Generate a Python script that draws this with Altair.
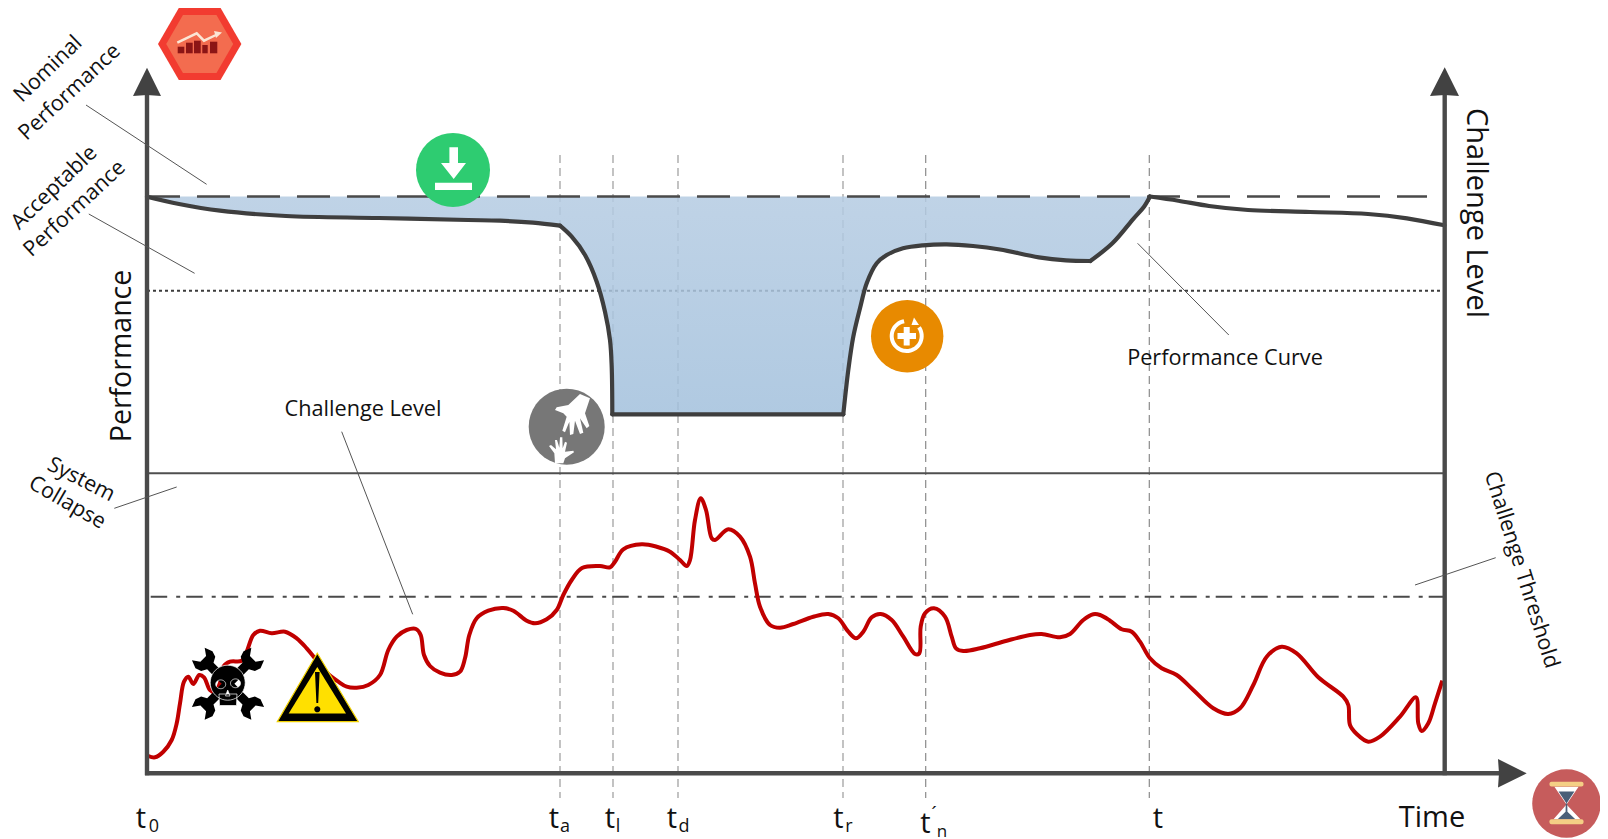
import math
import altair as alt
import pandas as pd

# ---- values (time / level on the drawing's own grid) ----
perf_seg = [
    [(147,196.7),(179,204),(220,210.7),(286,216),(379,218),(468,220),(500,220.7),(533,222.7),(560,225.7)],
    [(560,225.7),(571.7,236.7),(585,255),(596.7,281.7),(605,311.7),(610,340),(611.7,366.7),(612.3,414.3)],
    [(612.3,414.3),(843.3,414.3)],
    [(843.3,414.3),(848.3,370),(853.3,336.7),(860,308.3),(866.7,283.3),(876.7,263.3),(886.7,255),(903,248.3),
     (923,245.3),(946.7,244.3),(973,246),(1000,249.5),(1038.8,257.3),(1066,260.3),(1090.3,261)],
    [(1090.3,261),(1112.4,243.3),(1133.8,218.3),(1144,206.7),(1150,196.5)],
    [(1150,196.5),(1178.4,200.7),(1209,206),(1248,210),(1310,212),(1368,214),(1407,218.3),(1444.4,225.3)],
]
challenge_curve = [
    (148.3,756),(155,757.3),(163.3,751.7),(171.7,740),(176.7,723.3),(180,703.3),(184,681.7),(188.3,676.7),
    (193.3,684),(199.3,675),(204,677.3),(210,690),(215,692),(220,683),(223.3,666.7),(230,661.7),(241.7,660.7),
    (246.7,651.7),(253.3,635),(260,630.7),(271.7,633.3),(285,631.7),(296.7,638.3),(306.7,648.3),(315,658.3),
    (326,672),(338.3,681.7),(346.7,686.7),(356.7,687.7),(368.3,685),(380,675),(388.3,650),(396.7,636.7),
    (406.7,630),(416,629),(420.7,635),(424,655),(430,666),(440,672.7),(451.7,675),(460,671.7),(465,658.3),
    (469.3,635),(476.7,618.3),(488.3,610.7),(503.3,608),(513.3,610.7),(526.7,620.7),(535,623.3),(546.7,619.3),
    (556.7,610),(563.3,595),(571.7,580),(582,568),(600,566),(610,567.3),(615,561.7),(623.3,549.3),(641.7,544.3),
    (656.7,546.7),(670,551.7),(680,560),(686.7,566),(690,560),(695,520),(700.7,498.3),(706,510),(711.7,538.3),
    (715,540),(728.3,529.3),(740,536.7),(750,556.7),(755,583.3),(760,606.7),(770,625),(780,627.7),(793.3,624),
    (813.3,616.7),(828.3,614),(838.3,618.3),(848.3,631.7),(856,638.3),(863.3,631.7),(871.7,617.3),(880.7,614),
    (891.7,620),(903.3,636.7),(915,654),(919.3,653.3),(920.7,626.7),(925,613.3),(934,608.3),(945,616.7),
    (951.7,636.7),(956,648.3),(963.3,651),(980,648.3),(1006.7,640.7),(1030,635),(1041.7,634),(1060,637.3),
    (1070,634),(1083.3,620),(1093.3,614.3),(1100,615),(1110,620.7),(1121.7,629.3),(1131.7,631.7),(1140,641.7),
    (1150,658.3),(1161.7,668.3),(1176.7,675),(1193.3,690),(1213.3,708.3),(1228.3,714),(1240,708.3),(1253.3,685),
    (1266.7,656.7),(1281.7,646.7),(1296.7,653.3),(1318.3,677.3),(1343.3,696.7),(1348.3,705),(1350,725),
    (1356.7,734),(1368.3,741.7),(1380,736.7),(1400,716.7),(1416,697.3),(1418.3,723.3),(1421.7,731),(1428.3,723.3),
    (1435,703.3),(1442.3,680.7),
]
event_times = [560, 613, 678, 843, 925.7, 1149.3]
level_nominal = 196.5
level_acceptable = 290.7
level_collapse = 473.3
level_threshold = 596.7
axis_left = 147
axis_right = 1444.7
axis_floor = 773.3
leaders = [
    (86,105,206.6,184.3),(88.8,214,194.6,273.3),(114.3,508.3,176.7,487),
    (341.7,431.7,412.7,614.3),(1137.6,243.3,1228.8,335),(1415,585,1495.7,557.7),
]
labels = [
    ("Performance",122,356,28.5,270),("Challenge Level",1476,213,29,90),("Time",1432,818,29,0),
    ("Challenge Level",363,408.5,21.7,0),("Performance Curve",1225,358,21.7,0),
    ("Nominal",48.5,69.5,21.5,316),("Performance",70,92.5,21.5,317),
    ("Acceptable",54.5,188,21.5,316),("Performance",75,209,21.5,317),
    ("System",81,480,21.5,27),("Collapse",67,503,21.5,30),("Challenge Threshold",1521,570,21.5,72.5),
    ("t",141,819,29,0),("t",554,819,29,0),("t",610,819,29,0),("t",672,819,29,0),("t",838.5,819,29,0),
    ("t",925.5,824,29,0),("t",1158,819,29,0),
    ("0",154,827,18,0),("a",565,827,18,0),("l",618,827,18,0),("d",684,827,18,0),("r",849,827,18,0),
    ("n",942,832,17,0),("´",934,815,20,0),
]

X = alt.X("x:Q", scale=alt.Scale(domain=[8, 1600], nice=False, zero=False), axis=None)
Y = alt.Y("y:Q", scale=alt.Scale(domain=[839, 8], nice=False, zero=False), axis=None)
X2 = alt.X2("x2:Q")
Y2 = alt.Y2("y2:Q")
FONT = "Open Sans"
layers = []


def hline(y, x0, x1, color, width, dash=None, offset=0):
    kw = {"strokeDash": dash, "strokeDashOffset": offset} if dash else {}
    return alt.Chart(pd.DataFrame({"x": [x0], "x2": [x1], "y": [y]})).mark_rule(
        color=color, strokeWidth=width, **kw).encode(x=X, x2=X2, y=Y)


def vline(x, y0, y1, color, width, dash=None):
    kw = {"strokeDash": dash} if dash else {}
    return alt.Chart(pd.DataFrame({"x": [x], "y": [y0], "y2": [y1]})).mark_rule(
        color=color, strokeWidth=width, **kw).encode(x=X, y=Y, y2=Y2)


def path_of(polys, cx, cy, R, close=True):
    out = []
    for pts in polys:
        s = "M" + " L".join(f"{(a-cx)/R:.4f},{(b-cy)/R:.4f}" for a, b in pts)
        out.append(s + (" Z" if close else ""))
    return " ".join(out)


def glyph(polys, cx, cy, R, fill=None, stroke=None, sw=0, close=True):
    kw = {"filled": fill is not None, "opacity": 1, "size": (2 * R) ** 2, "shape": path_of(polys, cx, cy, R, close)}
    if fill is not None:
        kw["fill"] = fill
        kw["fillOpacity"] = 1
    if stroke is not None:
        kw["stroke"] = stroke
        kw["strokeWidth"] = sw
    else:
        kw["strokeWidth"] = 0
    return alt.Chart(pd.DataFrame({"x": [cx], "y": [cy]})).mark_point(**kw).encode(x=X, y=Y)


def ellipse(cx, cy, rx, ry, cw=True, n=40, a0=0.0, a1=360.0):
    out = []
    for i in range(n + 1 if (a1 - a0) < 360 else n):
        t = math.radians(a0 + (a1 - a0) * i / n)
        out.append((cx + rx * math.cos(t), cy + (ry if cw else -ry) * math.sin(t)))
    return out


def hexagon(cx, cy, r):
    return [(cx - r, cy), (cx - r / 2, cy - r * .866), (cx + r / 2, cy - r * .866),
            (cx + r, cy), (cx + r / 2, cy + r * .866), (cx - r / 2, cy + r * .866)]


# reference lines under the fill
layers.append(hline(level_acceptable, axis_left, axis_right, "#3c3c3c", 2, [3, 3]))
for i, t in enumerate(event_times):
    thin = i >= 4
    layers.append(vline(t, 155, 798, "#8a8a8a" if thin else "#b4b4b4", 1.2 if thin else 1.6, [8, 5]))

# fill between nominal and the performance curve
fill_pts = [p for seg in perf_seg[:5] for p in seg]
fill_df = pd.DataFrame({"x": [p[0] for p in fill_pts], "y": [p[1] for p in fill_pts],
                        "y2": [level_nominal] * len(fill_pts)}).drop_duplicates("x")
layers.append(alt.Chart(fill_df).mark_area(
    opacity=0.85,
    fill=alt.Gradient(gradient="linear", x1=0, x2=0, y1=0, y2=1, stops=[
        alt.GradientStop(color="#B4CBE2", offset=0),
        alt.GradientStop(color="#A2C0DC", offset=1)]),
).encode(x=X, y=alt.Y("y2:Q", scale=alt.Scale(domain=[839, 8], nice=False, zero=False), axis=None), y2=alt.Y2("y:Q")))

layers.append(hline(level_nominal, axis_left, 1427, "#4a4a4a", 2.3, [33, 17]))
layers.append(hline(level_collapse, axis_left, axis_right, "#4f4f4f", 2))
layers.append(hline(level_threshold, axis_left, axis_right, "#4a4a4a", 2, [16.5, 9, 4, 6], 31.8))

# curves
rows = [{"x": a, "y": b, "seg": i} for i, seg in enumerate(perf_seg) for a, b in seg]
layers.append(alt.Chart(pd.DataFrame(rows)).mark_line(
    color="#3e3e3e", strokeWidth=4.2, interpolate="catmull-rom", strokeCap="round"
).encode(x=X, y=Y, detail="seg:N"))
layers.append(alt.Chart(pd.DataFrame(challenge_curve, columns=["x", "y"])).mark_line(
    color="#C00000", strokeWidth=4, interpolate="catmull-rom"
).encode(x=X, y=Y))

# axes
AX = "#4a4a4a"
layers.append(vline(axis_left, 92, axis_floor + 2, AX, 4.4))
layers.append(vline(axis_right, 92, axis_floor + 2, AX, 4.4))
layers.append(hline(axis_floor, axis_left - 2, 1500, AX, 4.4))
layers.append(glyph([[(axis_left, 67.7), (161, 96), (147, 95), (133, 96)]], axis_left, 82, 20, fill="#424242"))
layers.append(glyph([[(axis_right, 67.3), (1459, 96), (axis_right, 95), (1430, 96)]], axis_right, 82, 20, fill="#424242"))
layers.append(glyph([[(1526.7, axis_floor), (1498, 787.5), (1499, axis_floor), (1498, 759)]], 1512, axis_floor, 20, fill="#424242"))

# leader lines
for a, b, c, d in leaders:
    layers.append(alt.Chart(pd.DataFrame({"x": [a], "y": [b], "x2": [c], "y2": [d]})).mark_rule(
        color="#555555", strokeWidth=1).encode(x=X, y=Y, x2=X2, y2=Y2))

# --- icons ---
# red hexagon
layers.append(glyph([hexagon(199.7, 44, 41.7)], 199.7, 44, 42, fill="#F23B30"))
layers.append(glyph([hexagon(199.7, 44, 33.5)], 199.7, 44, 42, fill="#F36C4F"))
for a, b, t in [(177.7, 184.3, 46.7), (186, 192.7, 42.7), (194, 200.7, 40.7), (202.3, 207.7, 45), (210, 217.3, 41.7)]:
    layers.append(alt.Chart(pd.DataFrame({"x": [a], "x2": [b], "y": [t], "y2": [53.3]})).mark_rect(
        color="#8C1515").encode(x=X, x2=X2, y=Y, y2=Y2))
layers.append(glyph([[(177.3, 42.7), (196.7, 33.3), (204, 40.7), (217, 34.5)]], 199.7, 44, 42,
                    stroke="#FBE6D5", sw=2.4, close=False))
layers.append(glyph([[(222, 32.5), (214, 31), (216, 38)]], 199.7, 44, 42, fill="#FBE6D5"))

# green download
layers.append(glyph([ellipse(453, 170, 37, 37)], 453, 170, 37, fill="#2ECC71"))
layers.append(glyph([[(449.4, 147.3), (458, 147.3), (458, 163), (466, 163), (453.7, 179), (441, 163), (449.4, 163)],
                     [(435, 182.7), (472, 182.7), (472, 190), (435, 190)]], 453, 170, 37, fill="#FFFFFF"))

# orange recover
layers.append(glyph([ellipse(907.2, 336.2, 36.2, 36.2)], 907.2, 336.2, 37, fill="#E88A00"))
layers.append(glyph([ellipse(906.7, 336, 15, 15, a0=-35, a1=-100 + 360)], 907.2, 336.2, 37,
                    stroke="#FFFFFF", sw=4, close=False))
layers.append(glyph([[(914, 317.5), (919, 325), (911.5, 325)]], 907.2, 336.2, 37, fill="#FFFFFF"))
layers.append(glyph([[(903.7, 327), (909.7, 327), (909.7, 333), (916, 333), (916, 339), (909.7, 339),
                      (909.7, 345.5), (903.7, 345.5), (903.7, 339), (897.5, 339), (897.5, 333), (903.7, 333)]],
                    907.2, 336.2, 37, fill="#FFFFFF"))

# grey hands (shapes traced in a 3x crop around the icon)
def hand(points):
    return [(500 + a / 3, 180 + b / 3) for a, b in points]

big = [(240,642),(270,655),(255,700),(268,738),(260,745),(240,715),(250,758),(240,762),(225,722),(220,762),
       (210,765),(208,725),(195,757),(187,752),(200,710),(190,700),(165,690),(170,682),(205,675)]
small = [(165,850),(163,820),(147,798),(153,795),(168,808),(165,780),(171,780),(178,803),(180,772),(187,772),
         (188,805),(195,785),(201,788),(195,815),(220,812),(222,817),(195,835),(190,850)]
layers.append(glyph([ellipse(566.7, 426.7, 38, 38)], 566.7, 426.7, 39, fill="#777777"))
layers.append(glyph([hand(big), hand(small)], 566.7, 426.7, 39, fill="#FFFFFF"))

# skull and wrenches
wr_cx, wr_cy = 228, 683.7
wrench = [(0,-4.5),(25,-4.5),(28,-10),(34,-12),(42,-9),(35,-4),(35,4),(42,9),(34,12),(28,10),(25,4.5),(0,4.5)]
polys = []
for ang in (45, 135, 225, 315):
    r = math.radians(ang)
    ux, uy = math.cos(r), -math.sin(r)
    vx, vy = math.sin(r), math.cos(r)
    polys.append([(wr_cx + u * ux + v * vx, wr_cy + u * uy + v * vy) for u, v in wrench])
layers.append(glyph(polys, wr_cx, wr_cy, 44, fill="#000000"))
skull = [ellipse(227.7, 682.7, 17.5, 17.5),
         [(219,694), (237,694), (236.5, 705.5), (219.5, 705.5)],
         ellipse(220.7, 684.3, 5, 4.4, cw=False),
         ellipse(235.5, 683.3, 5, 4.4, cw=False),
         [(227.7, 690), (225.5, 696), (230, 696)]]
layers.append(glyph(skull, wr_cx, wr_cy, 44, fill="#000000", stroke="#FFFFFF", sw=0.7))

# warning sign
layers.append(glyph([[(317.3, 653.3), (358.3, 721.7), (277.3, 721.7)]], 317.3, 690, 44,
                    fill="#000000", stroke="#F0D000", sw=1.2))
layers.append(glyph([[(317.3, 667), (346, 713.5), (288.7, 713.5)]], 317.3, 690, 44, fill="#FFE000"))
layers.append(glyph([[(315, 672), (319.6, 672), (318.2, 703), (316.4, 703)], ellipse(317.3, 709.3, 3, 3)],
                    317.3, 690, 44, fill="#000000"))

# hourglass (kept just inside the drawable edge)
HX, HY, HK = 1566.5, 803.5, 0.93
def hg(pts):
    return [(HX + (a - 1569) * HK, HY + (b - 805) * HK) for a, b in pts]

layers.append(glyph([ellipse(HX, HY, 34.3, 34.3)], HX, HY, 35, fill="#C65C5C"))
layers.append(glyph([hg([(1556, 787), (1582, 787), (1569, 806), (1584, 822), (1555, 822), (1569, 806)])], HX, HY, 35, fill="#FFFFFF"))
layers.append(glyph([hg([(1560.5, 792), (1577.5, 792), (1569, 805)]),
                     hg([(1568.2, 805), (1569.8, 805), (1570, 814), (1578.5, 822), (1559.5, 822), (1568, 814)])],
                    HX, HY, 35, fill="#4A5F78"))
for a, b in [(781.7, 786.7), (822, 827.3)]:
    (xa, ya), (xb, yb) = hg([(1550.7, a), (1587.3, b)])
    layers.append(alt.Chart(pd.DataFrame({"x": [xa], "x2": [xb], "y": [ya], "y2": [yb]})).mark_rect(
        color="#F4CF85", cornerRadius=2).encode(x=X, x2=X2, y=Y, y2=Y2))

# text
for txt, a, b, size, ang in labels:
    layers.append(alt.Chart(pd.DataFrame({"x": [a], "y": [b], "t": [txt]})).mark_text(
        font=FONT, fontSize=size, angle=ang, align="center", baseline="middle", color="#111111"
    ).encode(x=X, y=Y, text="t:N"))

chart = alt.layer(*layers).resolve_scale(x="shared", y="shared").properties(
    width=1592, height=831, padding=0, background="#FFFFFF", autosize=alt.AutoSizeParams(type="none")
).configure_view(stroke=None)

chart.save("out.html", embed_options={"renderer": "svg", "actions": False})
